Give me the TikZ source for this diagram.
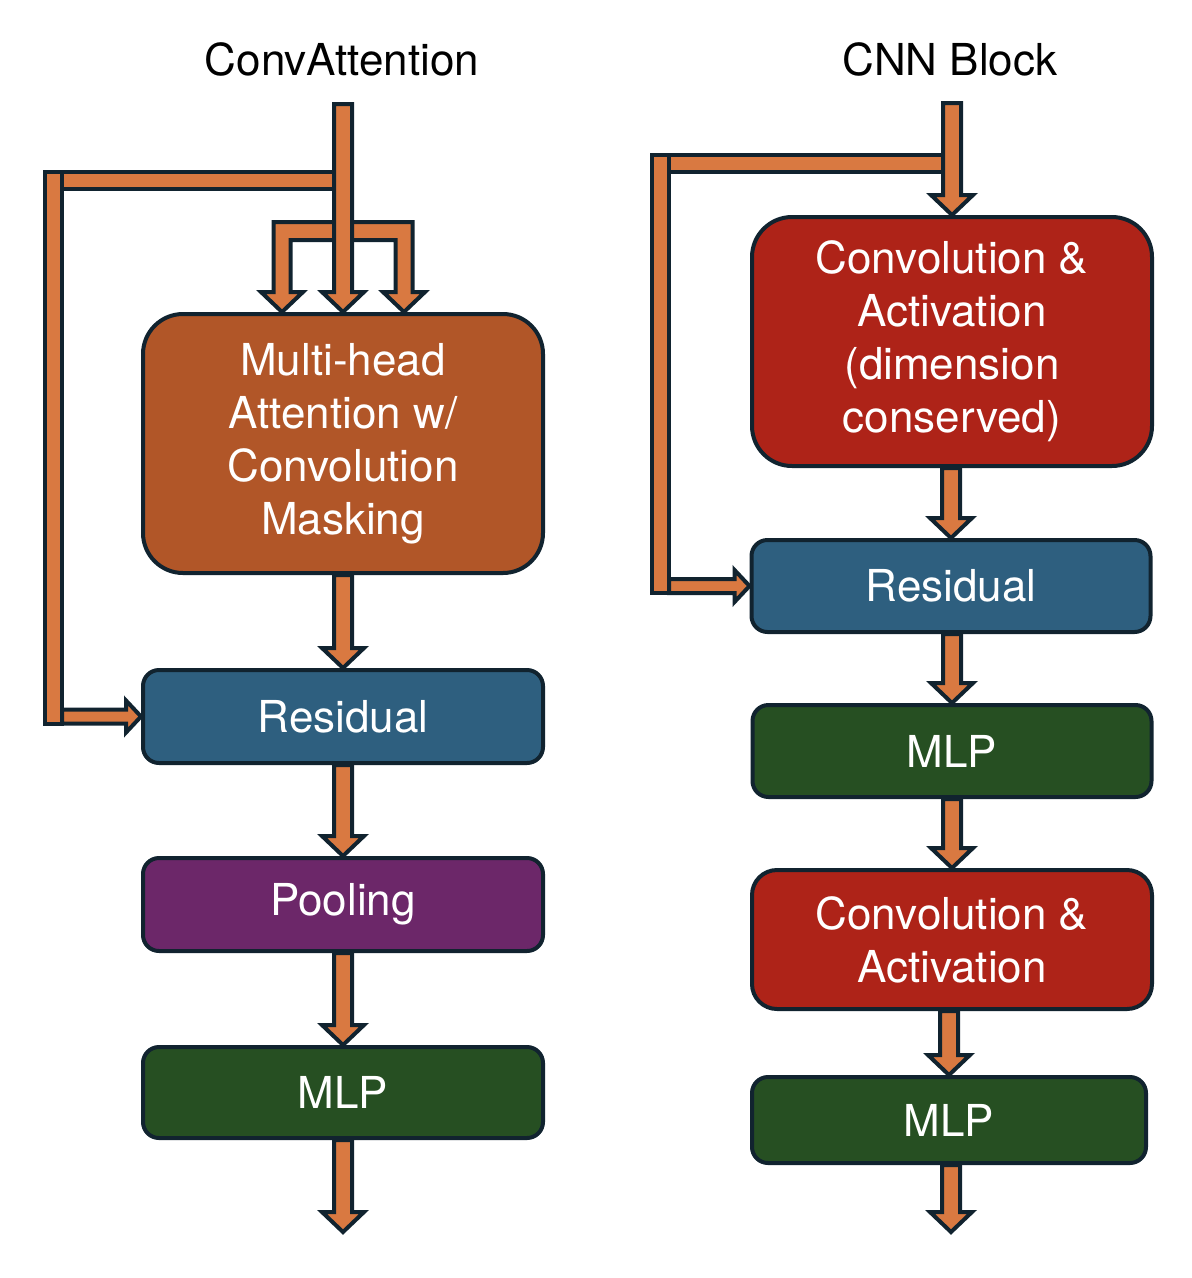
\documentclass[tikz,border=0pt]{standalone}
\usepackage{fontspec}
\setmainfont{TeX Gyre Heros}
\usetikzlibrary{calc,backgrounds}
\definecolor{arr}{HTML}{D97941}
\definecolor{dk}{HTML}{11232F}
\definecolor{mhac}{HTML}{B15628}
\definecolor{convc}{HTML}{AE2318}
\definecolor{resc}{HTML}{2E5F7F}
\definecolor{poolc}{HTML}{6C2769}
\definecolor{mlpc}{HTML}{264F22}
\tikzset{
  blk/.style={draw=dk, line width=4pt, rounded corners=16pt, text=white, align=center,
    font=\fontsize{44}{53}\selectfont, minimum width=400pt, inner sep=0pt},
  barrow/.style={fill=arr, draw=dk, line width=4pt, line join=miter, miter limit=10},
  ttl/.style={font=\fontsize{44}{53}\selectfont, text=black, anchor=base}
}
% vertical block arrow from #1 down to #2 (x taken from #2)
\newcommand{\varr}[2]{%
  \path[barrow] let \p1=(#1), \p2=(#2) in
    (\x2-9pt,\y1) -- (\x2-9pt,\y2+20pt) -- (\x2-21pt,\y2+20pt) -- (\x2,\y2)
    -- (\x2+21pt,\y2+20pt) -- (\x2+9pt,\y2+20pt) -- (\x2+9pt,\y1) -- cycle;}
% horizontal block arrow from x of #1 to #2
\newcommand{\harr}[2]{%
  \path[barrow] let \p1=(#1), \p2=(#2) in
    (\x1,\y2+7pt) -- (\x2-15pt,\y2+7pt) -- (\x2-15pt,\y2+16pt) -- (\x2,\y2)
    -- (\x2-15pt,\y2-16pt) -- (\x2-15pt,\y2-7pt) -- (\x1,\y2-7pt) -- cycle;}
\begin{document}
\begin{tikzpicture}[x=1pt,y=-1pt]
\useasboundingbox (0,0) rectangle (1192,1278);

% titles
\node[ttl] (t1) at (342,75) {ConvAttention};
\node[ttl] (t2) at (950,75) {CNN Block};

% left column
\node[blk, fill=mhac, rounded corners=40pt, minimum height=259pt] (mha) at (343,443.5)
  {Multi-head\\Attention w/\\Convolution\\Masking};
\node[blk, fill=resc, minimum height=93pt] (res1) at (343,716.5) {Residual};
\node[blk, fill=poolc, minimum height=93pt] (pool) at (343,904.5) {Pooling};
\node[blk, fill=mlpc, minimum height=91pt] (mlp1) at (343,1092.5) {MLP};

% right column
\node[blk, fill=convc, rounded corners=40pt, minimum height=249pt] (conv1) at (952,341.5)
  {Convolution \&\\Activation\\(dimension\\conserved)};
\node[blk, fill=resc, minimum height=92pt, minimum width=399pt] (res2) at (951,586) {Residual};
\node[blk, fill=mlpc, minimum height=92pt, minimum width=399pt] (mlp2) at (952,751) {MLP};
\node[blk, fill=convc, rounded corners=25pt, minimum height=139pt] (conv2) at (952,939.5)
  {Convolution \&\\Activation};
\node[blk, fill=mlpc, minimum height=86pt, minimum width=394pt] (mlp3) at (949,1120) {MLP};

% free ends and corners
\coordinate (in1) at (343,104);
\coordinate (in2) at (951.5,103);
\coordinate (lc) at (53.5,180);
\coordinate (rc) at (660.5,163);
\coordinate (out1) at (343,1232);
\coordinate (out2) at (951,1232);

\begin{scope}[on background layer]
  % left skip connection
  \path[barrow] let \p1=(lc), \p2=(in1) in (\x1-8.5pt,\y1-8.5pt) rectangle (\x2,\y1+8.5pt);
  \path[barrow] let \p1=(lc), \p3=(res1.west) in (\x1-8.5pt,\y1+8.5pt) rectangle (\x1+8.5pt,\y3-7pt);
  \harr{$(lc)+(8.5,0)$}{res1.west}
  % fork into three heads
  \path[barrow] let \p2=(mha.north) in
    (\x2-69.5pt,\y2+90pt) -- (\x2-69.5pt,\y2+20pt) -- (\x2-82pt,\y2+20pt) -- (\x2-61pt,\y2)
    -- (\x2-40pt,\y2+20pt) -- (\x2-52.5pt,\y2+20pt) -- (\x2-52.5pt,\y2+72pt)
    -- (\x2+52.5pt,\y2+72pt) -- (\x2+52.5pt,\y2+20pt) -- (\x2+40pt,\y2+20pt) -- (\x2+61pt,\y2)
    -- (\x2+82pt,\y2+20pt) -- (\x2+69.5pt,\y2+20pt) -- (\x2+69.5pt,\y2+90pt) -- cycle;
  \varr{in1}{mha.north}
  \varr{mha.south}{res1.north}
  \varr{res1.south}{pool.north}
  \varr{pool.south}{mlp1.north}
  \varr{mlp1.south}{out1}

  % right skip connection
  \path[barrow] let \p1=(rc), \p2=(in2) in (\x1-8.5pt,\y1-8.5pt) rectangle (\x2,\y1+8.5pt);
  \path[barrow] let \p1=(rc), \p3=(res2.west) in (\x1-8.5pt,\y1+8.5pt) rectangle (\x1+8.5pt,\y3-7pt);
  \harr{$(rc)+(8.5,0)$}{res2.west}
  \varr{in2}{conv1.north}
  \varr{conv1.south}{res2.north}
  \varr{res2.south}{mlp2.north}
  \varr{mlp2.south}{conv2.north}
  \varr{conv2.south}{mlp3.north}
  \varr{mlp3.south}{out2}
\end{scope}
\end{tikzpicture}
\end{document}
